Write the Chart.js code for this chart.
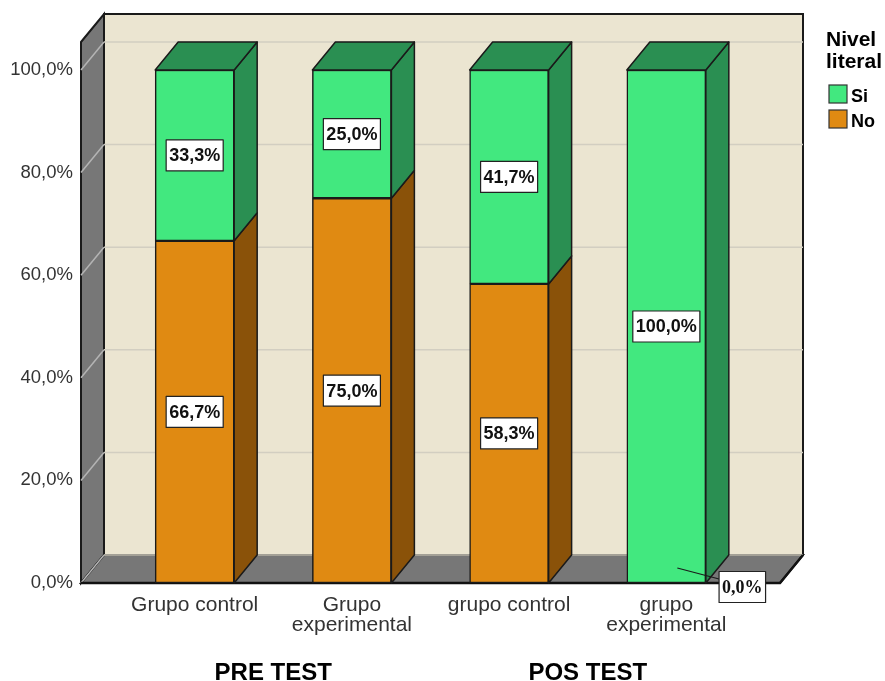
<!DOCTYPE html>
<html>
<head>
<meta charset="utf-8">
<title>Nivel literal</title>
<script src="https://cdn.jsdelivr.net/npm/chart.js@4"></script>
<style>
  body { margin: 0; background: #fff; }
</style>
</head>
<body>
<canvas id="chart" width="885" height="681"></canvas>
<script>
// data
const categories = [['Grupo control'], ['Grupo', 'experimental'], ['grupo control'], ['grupo', 'experimental']];
const groups = ['PRE TEST', 'POS TEST'];
const noValues = [66.7, 75.0, 58.3, 0.0];
const siValues = [33.3, 25.0, 41.7, 100.0];
const yTicks = [0, 20, 40, 60, 80, 100];
const legendTitle = ['Nivel', 'literal'];

const FONT = "'Liberation Sans', Arial, sans-serif";
const depth = { x: 23, y: 28 };
const sideColors = { No: '#8a5209', Si: '#2a8f52' };

function pct(v) {
    return v.toFixed(1).replace('.', ',') + '%';
}

function poly(ctx, pts, fill, stroke, lw) {
    ctx.beginPath();
    ctx.moveTo(pts[0][0], pts[0][1]);
    for (let i = 1; i < pts.length; i++) ctx.lineTo(pts[i][0], pts[i][1]);
    ctx.closePath();
    if (fill) { ctx.fillStyle = fill; ctx.fill(); }
    if (stroke) { ctx.strokeStyle = stroke; ctx.lineWidth = lw || 1; ctx.stroke(); }
}

// walls, floor, grid and the 3d faces of the bars
const box3d = {
    id: 'box3d',
    beforeDatasetsDraw(chart) {
        const { ctx, chartArea: a, scales: { y } } = chart;
        const dx = depth.x, dy = depth.y;
        const y0 = y.getPixelForValue(0);
        const top = y.getPixelForValue(100) - dy;
        ctx.save();
        // back wall
        ctx.fillStyle = '#ebe5d1';
        ctx.fillRect(a.left + dx, top - dy, a.right - a.left, y0 - top);
        ctx.strokeStyle = '#1a1a1a';
        ctx.lineWidth = 2;
        ctx.strokeRect(a.left + dx, top - dy, a.right - a.left, y0 - top);
        // left wall
        poly(ctx, [[a.left, top], [a.left + dx, top - dy], [a.left + dx, y0 - dy], [a.left, y0]], '#777777', '#1a1a1a', 2);
        // floor
        poly(ctx, [[a.left, y0], [a.left + dx, y0 - dy], [a.right + dx, y0 - dy], [a.right, y0]], '#777777', '#1a1a1a', 2);
        // grid lines
        ctx.lineWidth = 1.5;
        y.ticks.forEach(t => {
            const py = y.getPixelForValue(t.value);
            ctx.strokeStyle = '#d2cec1';
            ctx.beginPath();
            ctx.moveTo(a.left + dx, py - dy);
            ctx.lineTo(a.right + dx, py - dy);
            ctx.stroke();
            ctx.strokeStyle = '#b4b4b4';
            ctx.beginPath();
            ctx.moveTo(a.left, py);
            ctx.lineTo(a.left + dx, py - dy);
            ctx.stroke();
        });
        // front edge of the floor
        ctx.strokeStyle = '#111';
        ctx.lineWidth = 2.5;
        ctx.beginPath();
        ctx.moveTo(a.left, y0);
        ctx.lineTo(a.right, y0);
        ctx.lineTo(a.right + dx, y0 - dy);
        ctx.stroke();
        ctx.restore();
    },
    afterDatasetsDraw(chart) {
        const { ctx } = chart;
        const dx = depth.x, dy = depth.y;
        const metas = chart.getSortedVisibleDatasetMetas();
        const topOf = {};
        metas.forEach((m, di) => {
            chart.data.datasets[m.index].data.forEach((p, i) => {
                if (p.y > 0) topOf[i] = di;
            });
        });
        ctx.save();
        ctx.lineJoin = 'round';
        metas.forEach((m, di) => {
            const ds = chart.data.datasets[m.index];
            m.data.forEach((bar, i) => {
                const { x, y, base, width } = bar.getProps(['x', 'y', 'base', 'width'], true);
                if (Math.abs(base - y) < 0.5) return;
                const l = x - width / 2, r = x + width / 2;
                const t = Math.min(y, base), b = Math.max(y, base);
                poly(ctx, [[r, t], [r + dx, t - dy], [r + dx, b - dy], [r, b]], sideColors[ds.label], '#1a1a1a', 1.5);
                if (topOf[i] === di) {
                    poly(ctx, [[l, t], [l + dx, t - dy], [r + dx, t - dy], [r, t]], sideColors[ds.label], '#1a1a1a', 1.5);
                }
            });
        });

        // value labels
        metas.forEach(m => {
            const ds = chart.data.datasets[m.index];
            m.data.forEach((bar, i) => {
                const v = ds.data[i].y;
                const { x, y, base } = bar.getProps(['x', 'y', 'base'], true);
                const text = pct(v);
                let cx = x, cy = (y + base) / 2;
                if (v === 0) {
                    ctx.font = "bold 18px 'Liberation Serif', 'Times New Roman', serif";
                    cx = x + 76;
                    cy = base + 4;
                    const w0 = ctx.measureText(text).width + 6;
                    ctx.strokeStyle = '#1a1a1a';
                    ctx.lineWidth = 1.2;
                    ctx.beginPath();
                    ctx.moveTo(x + 11, base - 15);
                    ctx.lineTo(cx - w0 / 2, base - 4);
                    ctx.stroke();
                } else {
                    ctx.font = 'bold 18px ' + FONT;
                }
                const w = ctx.measureText(text).width + 6;
                const h = 31;
                ctx.fillStyle = '#fff';
                ctx.fillRect(cx - w / 2, cy - h / 2, w, h);
                ctx.strokeStyle = '#222';
                ctx.lineWidth = 1.2;
                ctx.strokeRect(cx - w / 2, cy - h / 2, w, h);
                ctx.fillStyle = '#111';
                ctx.textAlign = 'center';
                ctx.textBaseline = 'middle';
                ctx.fillText(text, cx, cy + 1);
            });
        });
        ctx.restore();
    },
    afterDraw(chart) {
        const { ctx, scales: { x } } = chart;
        ctx.save();
        // group titles under the category labels
        ctx.font = 'bold 24px ' + FONT;
        ctx.fillStyle = '#000';
        ctx.textAlign = 'center';
        ctx.textBaseline = 'alphabetic';
        groups.forEach((g, gi) => {
            const px = (x.getPixelForValue(gi * 2) + x.getPixelForValue(gi * 2 + 1)) / 2;
            ctx.fillText(g, px, 680);
        });
        // legend
        ctx.textAlign = 'left';
        ctx.font = 'bold 21px ' + FONT;
        legendTitle.forEach((line, k) => ctx.fillText(line, 826, 46 + k * 22));
        ctx.font = 'bold 18px ' + FONT;
        const items = chart.data.datasets.slice().reverse();
        items.forEach((ds, k) => {
            const ty = 85 + k * 25;
            ctx.fillStyle = ds.backgroundColor;
            ctx.fillRect(829, ty, 18, 18);
            ctx.strokeStyle = '#333';
            ctx.lineWidth = 1.2;
            ctx.strokeRect(829, ty, 18, 18);
            ctx.fillStyle = '#000';
            ctx.fillText(ds.label, 851, ty + 17);
        });
        ctx.restore();
    }
};

const ctx = document.getElementById('chart').getContext('2d');
new Chart(ctx, {
    type: 'bar',
    data: {
        datasets: [{
            label: 'No',
            data: noValues.map((v, i) => ({ x: i, y: v })),
            backgroundColor: '#e08a12',
            borderColor: '#1a1a1a',
            borderWidth: 1.5,
            borderSkipped: false,
            clip: false
        }, {
            label: 'Si',
            data: siValues.map((v, i) => ({ x: i, y: v })),
            backgroundColor: '#42e87f',
            borderColor: '#1a1a1a',
            borderWidth: 1.5,
            borderSkipped: false,
            clip: false
        }]
    },
    options: {
        responsive: false,
        animation: false,
        barThickness: 79,
        layout: { padding: { top: 70, right: 105, bottom: 0, left: 0 } },
        plugins: {
            legend: { display: false },
            tooltip: { enabled: false }
        },
        scales: {
            x: {
                type: 'linear',
                stacked: true,
                offset: false,
                min: -0.723,
                max: 3.723,
                afterBuildTicks: axis => { axis.ticks = categories.map((c, i) => ({ value: i })); },
                afterFit: axis => { axis.height = 98; },
                grid: { display: false, drawTicks: false },
                border: { display: false },
                ticks: {
                    autoSkip: false,
                    maxRotation: 0,
                    padding: 12,
                    color: '#333',
                    font: { family: FONT, size: 21, lineHeight: 0.95 },
                    callback: v => categories[v]
                }
            },
            y: {
                stacked: true,
                min: 0,
                max: 100,
                afterBuildTicks: axis => { axis.ticks = yTicks.map(v => ({ value: v })); },
                afterFit: axis => { axis.width = 81; },
                grid: { display: false, drawTicks: false },
                border: { display: false },
                ticks: {
                    padding: 8,
                    color: '#333',
                    font: { family: FONT, size: 18.5 },
                    callback: v => pct(v)
                }
            }
        }
    },
    plugins: [box3d]
});
</script>
</body>
</html>
